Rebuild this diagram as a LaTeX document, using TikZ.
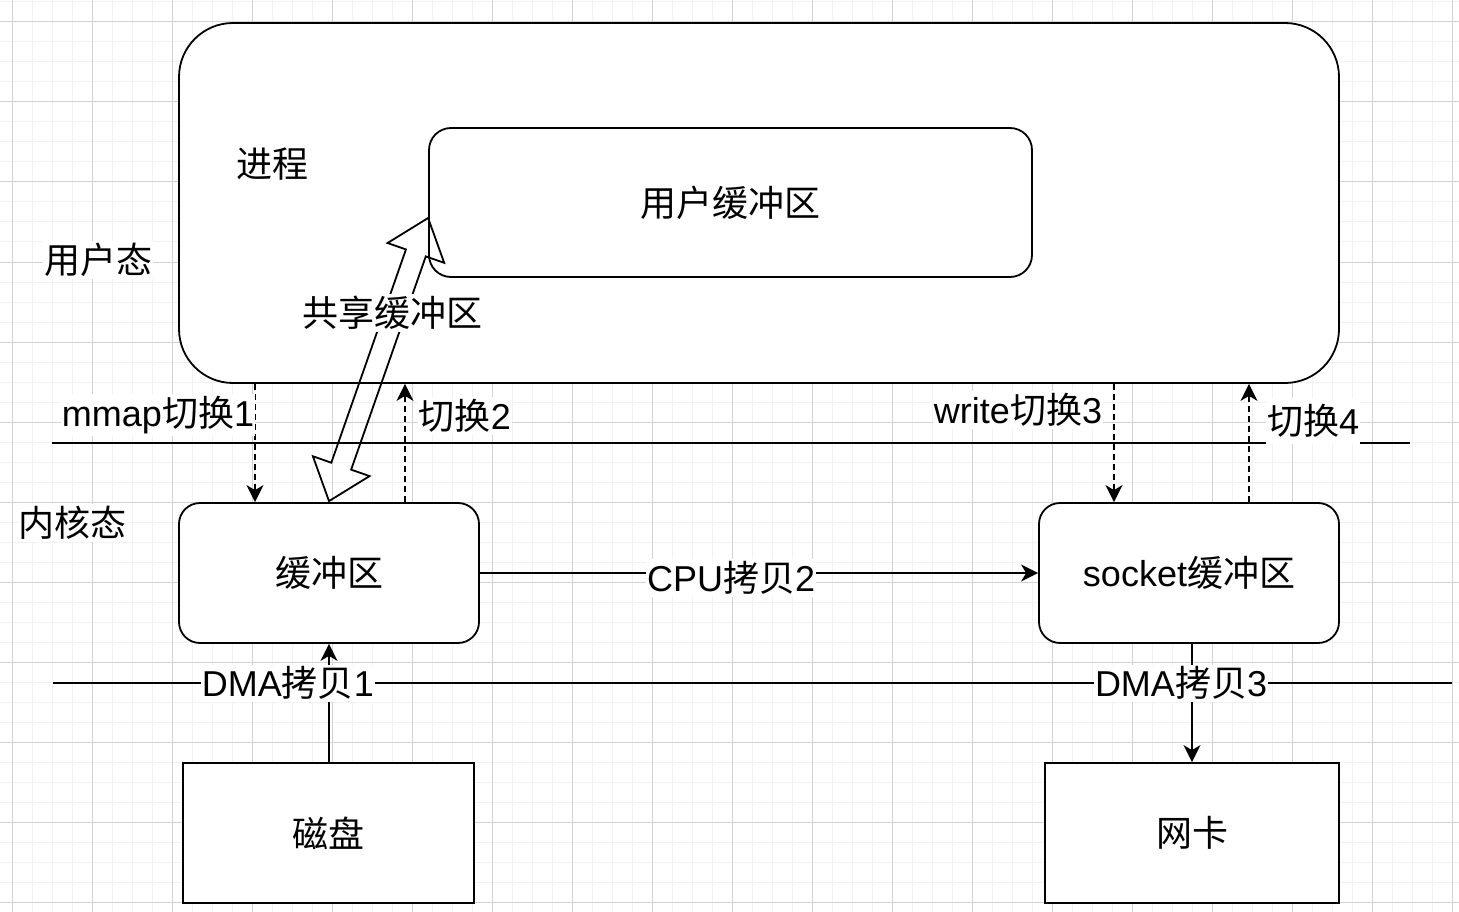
\documentclass[tikz,border=0pt]{standalone}
\usepackage{fontspec}
\setmainfont{Liberation Sans}
\newfontfamily\cjk{Noto Sans CJK SC}
\newcommand{\zh}[1]{{\cjk #1}}
\usetikzlibrary{arrows.meta,calc}
\begin{document}
\begin{tikzpicture}[x=1pt,y=-1pt,
  minor/.style={draw=gray!10, line width=1pt},
  major/.style={draw=gray!35, line width=1pt},
  box/.style={draw=black, line width=1.8pt, fill=white, font=\fontsize{36}{40}\selectfont, inner sep=0pt},
  lab/.style={fill=white, font=\fontsize{36}{40}\selectfont, inner xsep=1pt, inner ysep=2pt},
  sep/.style={draw=black, line width=1.8pt},
  arr/.style={draw=black, line width=1.8pt, -{Stealth[length=17pt,width=17pt,inset=5pt]}},
  dasharr/.style={arr, dash pattern=on 6pt off 4pt},
  blockarrow/.style={draw=black, line width=1.8pt, line join=miter}]
\useasboundingbox (0,0) rectangle (1459,912);
\fill[white] (0,0) rectangle (1459,912);
% grid
\foreach \g in {12,32,...,1459} \draw[minor] (\g,0) -- (\g,912);
\foreach \g in {2,22,...,912} \draw[minor] (0,\g) -- (1459,\g);
\foreach \g in {12,92,...,1459} \draw[major] (\g,0) -- (\g,912);
\foreach \g in {22,102,...,912} \draw[major] (0,\g) -- (1459,\g);

% boxes
\node[box, rounded corners=54pt, minimum width=1160pt, minimum height=360pt] (proc) at (759,203) {};
\node[box, rounded corners=22pt, minimum width=603pt, minimum height=149pt] (ubuf) at (730.5,202.5) {\zh{用户缓冲区}};
\node[box, rounded corners=21pt, minimum width=300pt, minimum height=140pt] (kbuf) at (329,573) {\zh{缓冲区}};
\node[box, rounded corners=21pt, minimum width=300pt, minimum height=140pt] (sbuf) at (1189,573) {socket\zh{缓冲区}};
\node[box, minimum width=291pt, minimum height=140pt] (disk) at (328.5,833) {\zh{磁盘}};
\node[box, minimum width=294pt, minimum height=140pt] (nic) at (1192,833) {\zh{网卡}};

% separator lines
\coordinate (h1a) at (52,443);
\coordinate (h1b) at (1410,443);
\coordinate (h2a) at (53,683);
\coordinate (h2b) at (1452,683);
\draw[sep] (h1a) -- (h1b);
\draw[sep] (h2a) -- (h2b);

% mode-switch arrows
\coordinate (a1) at ([xshift=-74pt]kbuf.north);
\coordinate (a2) at ([xshift=76pt]kbuf.north);
\coordinate (a3) at ([xshift=-75pt]sbuf.north);
\coordinate (a4) at ([xshift=60pt]sbuf.north);
\draw[dasharr] (a1 |- proc.south) -- (a1);
\draw[dasharr] (a2) -- (a2 |- proc.south);
\draw[dasharr] (a3 |- proc.south) -- (a3);
\draw[dasharr] (a4) -- (a4 |- proc.south);

% copy arrows
\draw[arr] (kbuf.east) -- (sbuf.west) node[lab, pos=0.45, yshift=-5pt] {CPU\zh{拷贝}2};
\draw[arr] (disk.north -| kbuf.south) -- (kbuf.south) node[lab, pos=0.667, xshift=-41pt] {DMA\zh{拷贝}1};
\draw[arr] (sbuf.south -| nic.north) -- (nic.north) node[lab, pos=0.333, xshift=-11pt] {DMA\zh{拷贝}3};

% shared buffer block arrow
\coordinate (T) at ([yshift=-15.5pt]ubuf.west);
\coordinate (B) at ([yshift=1pt]kbuf.north);
\coordinate (Ht) at ($(T)!37pt!(B)$);
\coordinate (Hb) at ($(B)!37pt!(T)$);
\coordinate (tb1) at ($(Ht)!30pt!90:(T)$);
\coordinate (tb2) at ($(Ht)!30pt!-90:(T)$);
\coordinate (ts1) at ($(Ht)!10.5pt!90:(T)$);
\coordinate (ts2) at ($(Ht)!10.5pt!-90:(T)$);
\coordinate (bb1) at ($(Hb)!30pt!-90:(B)$);
\coordinate (bb2) at ($(Hb)!30pt!90:(B)$);
\coordinate (bs1) at ($(Hb)!10.5pt!-90:(B)$);
\coordinate (bs2) at ($(Hb)!10.5pt!90:(B)$);
\draw[blockarrow] (T) -- (tb1) -- (ts1) -- (bs1) -- (bb1) -- (B) -- (bb2) -- (bs2) -- (ts2) -- (tb2) -- cycle;

% labels
\node[lab] (lproc) at (272,164) {\zh{进程}};
\node[lab] (luser) at (98,260) {\zh{用户态}};
\node[lab] (lkern) at (73,523) {\zh{内核态}};
\node[lab] (lshare) at (392,313) {\zh{共享缓冲区}};
\node[lab] (l1) at (158,415) {mmap\zh{切换}1};
\node[lab] (l2) at (465,416) {\zh{切换}2};
\node[lab] (l3) at (1018,410) {write\zh{切换}3};
\node[lab, inner ysep=6pt] (l4) at (1313,421) {\zh{切换}4};
\end{tikzpicture}
\end{document}
